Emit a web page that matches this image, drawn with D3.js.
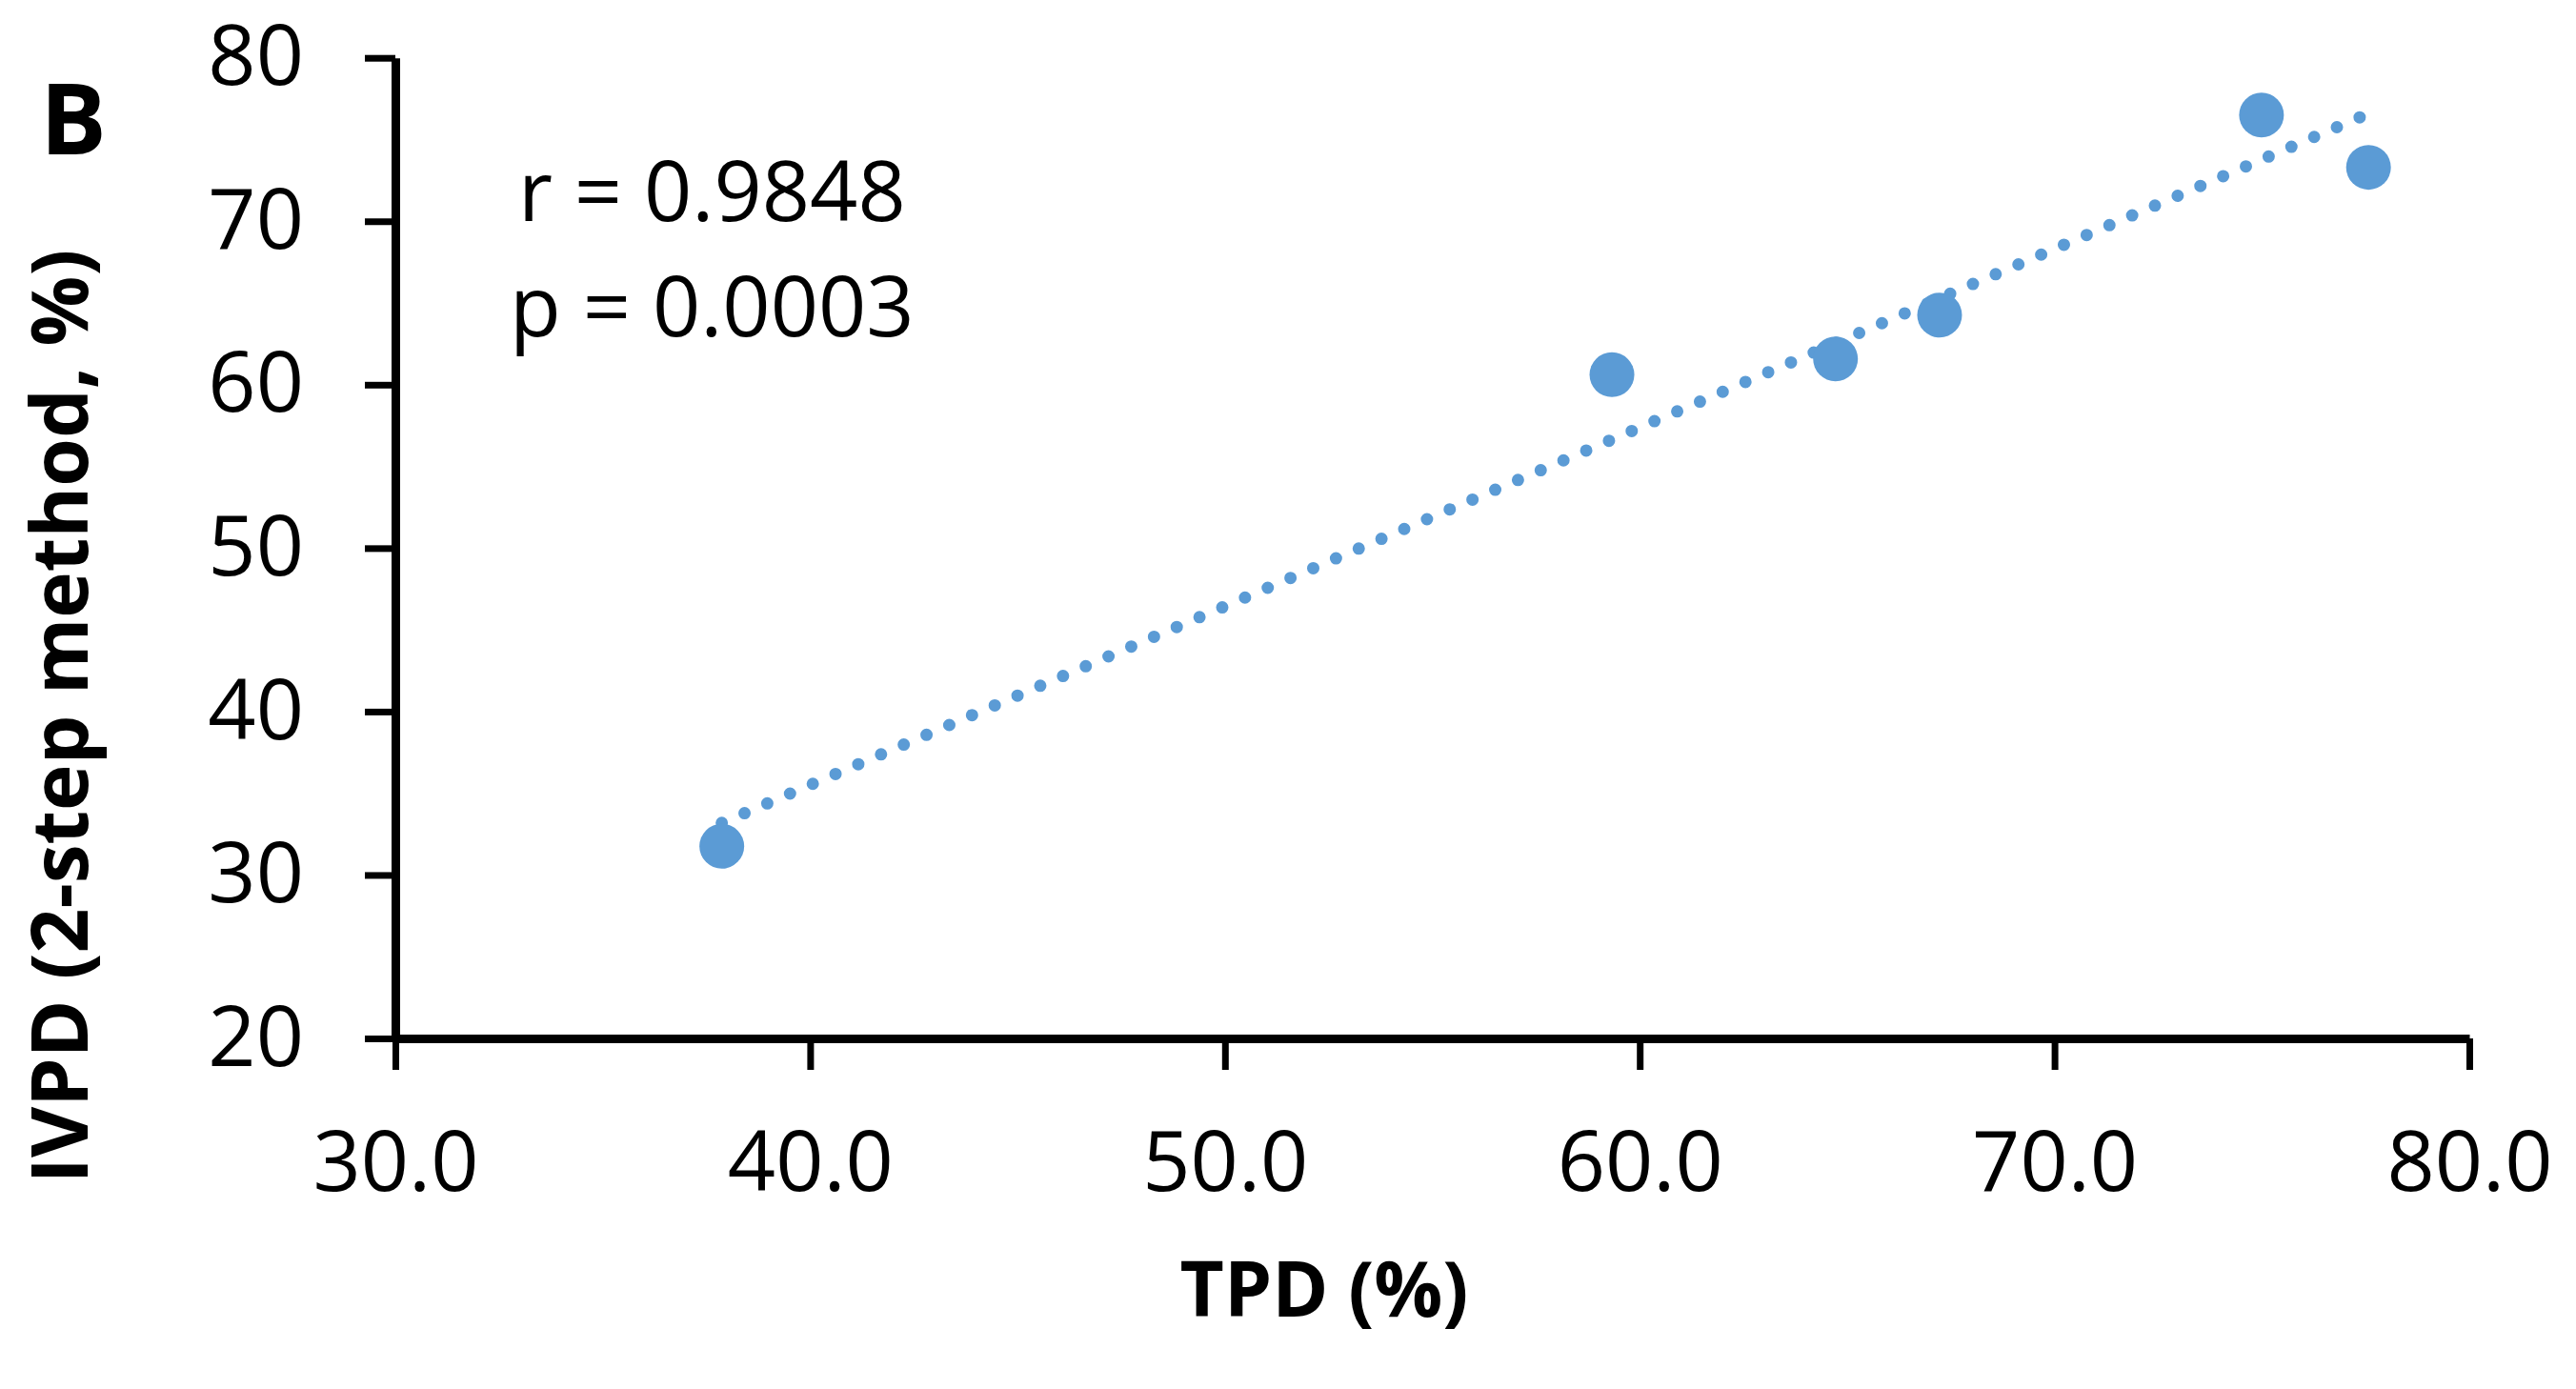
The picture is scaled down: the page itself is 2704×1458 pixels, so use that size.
<!DOCTYPE html>
<html>
<head>
<meta charset="utf-8">
<script src="https://cdn.jsdelivr.net/npm/d3@7"></script>
<style>
  body { margin: 0; background: #fff; }
  text { font-family: "Open Sans", sans-serif; }
</style>
</head>
<body>
<script>
// TPD vs IVPD values
var tpd = [37.87, 59.33, 64.72, 67.23, 74.99, 77.57];
var ivpd = [31.76, 60.61, 61.58, 64.26, 76.5, 73.3];
var xTicks = [30, 40, 50, 60, 70, 80];
var yTicks = [20, 30, 40, 50, 60, 70, 80];
var statLines = ["r = 0.9848", "p = 0.0003"];

var width = 2704, height = 1458;
var blue = "#5b9bd5";

var svg = d3.select("body")
    .append("svg")
    .attr("width", width)
    .attr("height", height);

var x = d3.scaleLinear().domain([30, 80]).range([415, 2592]);
var y = d3.scaleLinear().domain([20, 80]).range([1090, 60.7]);

// axes
var xAxis = svg.append("g")
    .attr("transform", "translate(0," + y(20) + ")")
    .call(d3.axisBottom(x).tickValues(xTicks).tickFormat(d3.format(".1f"))
        .tickSize(33).tickSizeOuter(0).tickPadding(65));

var yAxis = svg.append("g")
    .attr("transform", "translate(" + x(30) + ",0)")
    .call(d3.axisLeft(y).tickValues(yTicks).tickFormat(d3.format("d"))
        .tickSize(32).tickSizeOuter(0).tickPadding(64));

[xAxis, yAxis].forEach(function (g) {
    g.select(".domain").attr("stroke", "#000").attr("stroke-width", 9);
    g.selectAll(".tick line").attr("stroke", "#000").attr("stroke-width", 7);
    g.selectAll(".tick text")
        .attr("fill", "#000")
        .style("font-family", "'Open Sans', sans-serif")
        .style("font-size", "88px");
});

// linear trendline (least squares)
var mx = d3.mean(tpd), my = d3.mean(ivpd);
var sxy = 0, sxx = 0;
for (var i = 0; i < tpd.length; i++) {
    sxy += (tpd[i] - mx) * (ivpd[i] - my);
    sxx += (tpd[i] - mx) * (tpd[i] - mx);
}
var slope = sxy / sxx;
var icpt = my - slope * mx;
var x0 = d3.min(tpd), x1 = d3.max(tpd);

svg.append("line")
    .attr("x1", x(x0))
    .attr("y1", y(icpt + slope * x0))
    .attr("x2", x(x1))
    .attr("y2", y(icpt + slope * x1))
    .attr("stroke", blue)
    .attr("stroke-width", 13)
    .attr("stroke-linecap", "round")
    .attr("stroke-dasharray", "0 26");

// points
svg.append("g")
    .selectAll("circle")
    .data(tpd)
    .enter()
    .append("circle")
    .attr("cx", function (d) { return x(d); })
    .attr("cy", function (d, i) { return y(ivpd[i]); })
    .attr("r", 23.5)
    .attr("fill", blue);

// stats text
svg.append("g")
    .selectAll("text")
    .data(statLines)
    .enter()
    .append("text")
    .attr("x", function (d, i) { return i == 0 ? 544 : 535; })
    .attr("y", function (d, i) { return 232 + i * 121; })
    .style("font-size", "88px")
    .text(function (d) { return d; });

// panel letter
svg.append("text")
    .attr("x", 42)
    .attr("y", 162)
    .style("font-size", "104px")
    .style("font-weight", "bold")
    .text("B");

// axis titles
svg.append("text")
    .attr("x", 1390)
    .attr("y", 1382)
    .attr("text-anchor", "middle")
    .style("font-size", "80px")
    .style("font-weight", "bold")
    .text("TPD (%)");

svg.append("text")
    .attr("transform", "translate(92,752) rotate(-90)")
    .attr("text-anchor", "middle")
    .style("font-size", "82px")
    .style("font-weight", "bold")
    .text("IVPD (2-step method, %)");
</script>
</body>
</html>
